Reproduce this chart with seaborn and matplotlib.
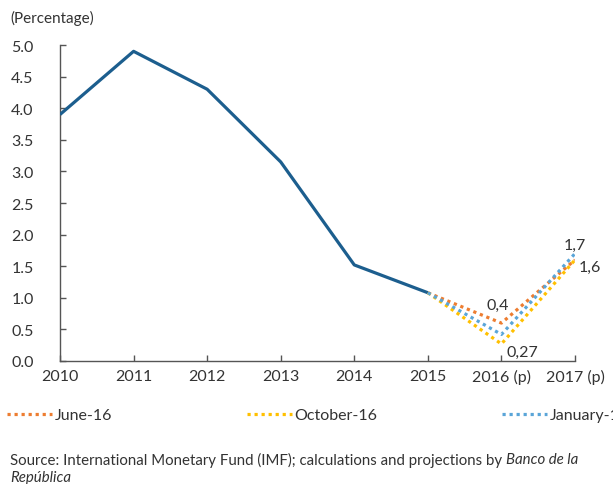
import numpy as np
import pandas as pd
import matplotlib
matplotlib.use("Agg")
import matplotlib.pyplot as plt
import seaborn as sns
from matplotlib.lines import Line2D

# ---- data ----
years = ["2010", "2011", "2012", "2013", "2014", "2015", "2016 (p)", "2017 (p)"]
actual = [3.9, 4.9, 4.3, 3.15, 1.52, 1.08]
proj_years = ["2015", "2016 (p)", "2017 (p)"]
june16 = [1.08, 0.6, 1.6]
october16 = [1.08, 0.27, 1.6]
january17 = [1.08, 0.42, 1.7]
yticks = [0.0, 0.5, 1.0, 1.5, 2.0, 2.5, 3.0, 3.5, 4.0, 4.5, 5.0]

# ---- style ----
sns.set_style("ticks")
plt.rcParams["font.family"] = ["Lato", "DejaVu Sans"]
TXT = "#333333"
AX = "#555555"
C_MAIN = "#1C5E8E"
C_JUN = "#ED7D31"
C_OCT = "#FFC000"
C_JAN = "#5AA5D8"
DOTS = (0, (1.0, 1.2))
FS = 11.5

fig = plt.figure(figsize=(6.13, 4.85), dpi=100)
ax = fig.add_axes([60 / 613, 1 - 362 / 485, 515 / 613, 316 / 485])

pos = {y: i for i, y in enumerate(years)}
df_act = pd.DataFrame({"x": [pos[y] for y in years[:len(actual)]], "v": actual})
sns.lineplot(data=df_act, x="x", y="v", ax=ax, color=C_MAIN, lw=2.3,
             solid_capstyle="butt", zorder=3)

series = [("June-16", june16, C_JUN), ("October-16", october16, C_OCT),
          ("January-17", january17, C_JAN)]
for name, vals, col in series:
    d = pd.DataFrame({"x": [pos[y] for y in proj_years], "v": vals})
    sns.lineplot(data=d, x="x", y="v", ax=ax, color=col, lw=2.3,
                 linestyle=DOTS, dash_capstyle="butt", zorder=4)

# data labels
lab_kw = dict(textcoords="offset points", fontsize=FS, color=TXT,
              ha="center", va="center", annotation_clip=False)
ax.annotate("0,4", (pos["2016 (p)"], june16[1]), xytext=(-3, 13), **lab_kw)
ax.annotate("0,27", (pos["2016 (p)"], october16[1]), xytext=(15, -6), **lab_kw)
ax.annotate("1,7", (pos["2017 (p)"], january17[2]), xytext=(0, 6), **lab_kw)
ax.annotate("1,6", (pos["2017 (p)"], october16[2]), xytext=(11, -5), **lab_kw)

# axes
ax.set_xlim(0, len(years) - 1)
ax.set_ylim(0, 5)
ax.set_xticks(range(len(years)))
ax.set_xticklabels(years)
ax.set_yticks(yticks)
ax.set_yticklabels([f"{t:.1f}" for t in yticks])
ax.set_xlabel("")
ax.set_ylabel("")
for s in ["top", "right"]:
    ax.spines[s].set_visible(False)
for s in ["left", "bottom"]:
    ax.spines[s].set_color(AX)
    ax.spines[s].set_linewidth(1.0)
ax.tick_params(axis="both", direction="in", length=4, width=1, color=AX,
               labelcolor=TXT, labelsize=FS)
ax.tick_params(axis="y", pad=19)
ax.tick_params(axis="x", pad=6)

fig.text(10 / 613, 1 - 18 / 485, "(Percentage)", fontsize=11, color=TXT,
         ha="left", va="center")

# legend, spread like the original
leg_x = [1 / 613, 241 / 613, 496 / 613]
for (name, vals, col), lx in zip(series, leg_x):
    h = Line2D([], [], color=col, lw=2.3, linestyle=DOTS, dash_capstyle="butt")
    fig.legend(handles=[h], labels=[name], loc="center left",
               bbox_to_anchor=(lx, 1 - 416 / 485), frameon=False,
               handlelength=2.8, handletextpad=0.15, borderaxespad=0,
               prop={"size": FS}, labelcolor=TXT)

# source note: plain part, then italic institution name right after it
src = fig.text(10 / 613, 1 - 460 / 485,
               "Source: International Monetary Fund (IMF); calculations and projections by ",
               fontsize=10.8, color=TXT, ha="left", va="center")
fig.canvas.draw()
bb = src.get_window_extent().transformed(fig.transFigure.inverted())
fig.text(bb.x1, 1 - 460 / 485, "Banco de la", fontsize=10.8, color=TXT,
         ha="left", va="center", style="italic")
fig.text(10 / 613, 1 - 478 / 485, "República", fontsize=10.8, color=TXT,
         ha="left", va="center", style="italic")

fig.savefig("out.png", dpi=100)
